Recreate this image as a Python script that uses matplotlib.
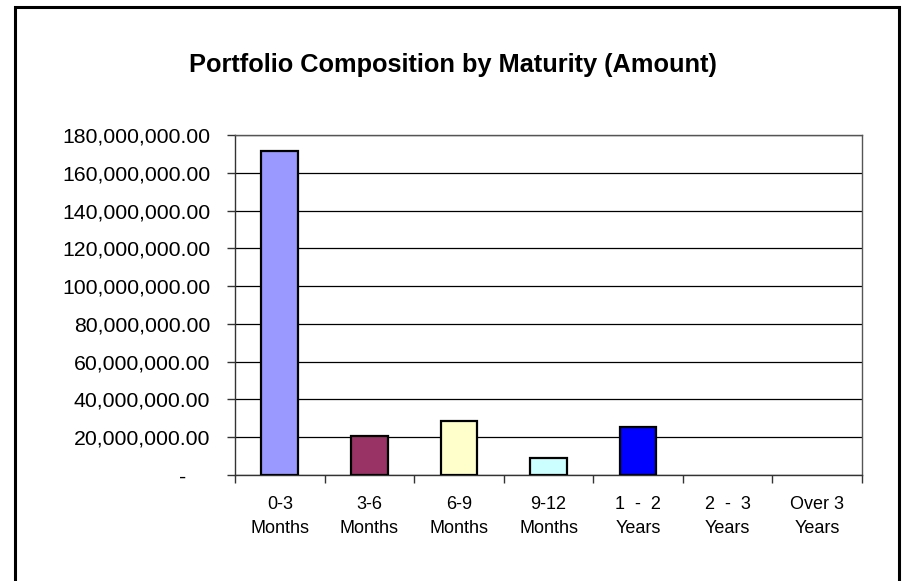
import matplotlib
matplotlib.use("Agg")
import matplotlib.pyplot as plt
from matplotlib.patches import Rectangle
from matplotlib.ticker import FuncFormatter, MultipleLocator

plt.rcParams['font.family'] = ['Liberation Sans', 'DejaVu Sans']

# data
categories = ["0-3\nMonths", "3-6\nMonths", "6-9\nMonths", "9-12\nMonths",
              "1  -  2\nYears", "2  -  3\nYears", "Over 3\nYears"]
amounts = [171_500_000, 20_800_000, 28_700_000, 8_800_000, 25_600_000, 0, 0]
bar_colors = ["#9999FF", "#993366", "#FFFFCC", "#CCFFFF", "#0000FF", "#660066", "#FF8080"]

fig = plt.figure(figsize=(9.07, 5.81), dpi=100)
ax = fig.add_axes([0.2591, 0.1824, 0.6913, 0.5852])

x = range(len(categories))
# zero bars are not drawn with an outline in the original
edge_widths = [1.6 if v else 0 for v in amounts]
ax.bar(x, amounts, width=0.41, color=bar_colors, edgecolor="black",
       linewidth=edge_widths, zorder=3)

ax.set_xlim(-0.5, len(categories) - 0.5)
ax.set_ylim(0, 180_000_000)
ax.yaxis.set_major_locator(MultipleLocator(20_000_000))
ax.yaxis.grid(True, color="black", linewidth=0.9, zorder=0)


def money(v, pos):
    if v == 0:
        return "-    "
    return f"{v:,.2f}"


ax.yaxis.set_major_formatter(FuncFormatter(money))
ax.tick_params(axis="y", labelsize=15.3, length=6, width=1, color="#333333", pad=12)

ax.set_xticks(list(x))
ax.set_xticklabels(categories, fontsize=13, linespacing=1.55)
ax.set_xticks([i + 0.5 for i in range(-1, len(categories))], minor=True)
ax.tick_params(axis="x", which="major", length=0, pad=15)
ax.tick_params(axis="x", which="minor", length=6, width=1, color="#333333")

for s in ax.spines.values():
    s.set_color("#555555")
    s.set_linewidth(1)
ax.spines["left"].set_color("#333333")
ax.spines["bottom"].set_color("#333333")

fig.text(0.499, 0.876, "Portfolio Composition by Maturity (Amount)",
         ha="center", va="baseline", fontsize=18.3, fontweight="bold")

# outer chart frame
fig.patches.append(Rectangle((15 / 907, -0.05), 884 / 907, 1.05 - 7 / 581,
                             transform=fig.transFigure, fill=False,
                             edgecolor="black", linewidth=2.2))

fig.savefig("out.png", dpi=100)
